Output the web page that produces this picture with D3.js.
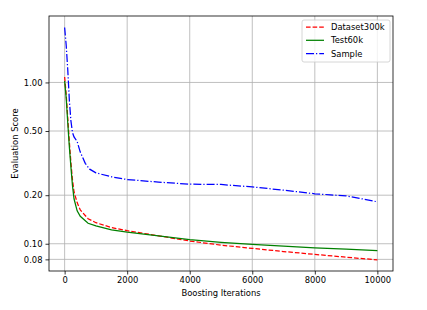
<!DOCTYPE html>
<html>
<head>
    <title>Evaluation Score</title>
    <script src="https://d3js.org/d3.v7.min.js"></script>
    <style>
        body { margin: 0; background: #fff; }
        svg { display: block; font-family: "DejaVu Sans", sans-serif; }
    </style>
</head>
<body>
    <svg id="chart"></svg>
    <script>
        const width = 427;
        const height = 310;

        // data
        const iterations = [0, 50, 100, 150, 200, 250, 300, 400, 500, 750, 1000, 1500, 2000, 3000, 4000, 5000, 6000, 7000, 8000, 9000, 10000];
        const dataset300k = [1.08, 0.84, 0.60, 0.43, 0.32, 0.25, 0.21, 0.18, 0.162, 0.143, 0.135, 0.126, 0.1205, 0.112, 0.104, 0.098, 0.0936, 0.0895, 0.0859, 0.0825, 0.0795];
        const test60k = [1.02, 0.80, 0.56, 0.40, 0.30, 0.23, 0.19, 0.16, 0.148, 0.134, 0.129, 0.122, 0.118, 0.112, 0.106, 0.102, 0.099, 0.0965, 0.0944, 0.0925, 0.0905];

        const sampleIterations = [0, 50, 100, 150, 200, 250, 300, 400, 500, 660, 800, 1000, 1500, 2000, 3000, 4000, 5000, 6000, 7000, 8000, 8500, 9000, 9500, 10000];
        const sample = [2.19, 1.7, 1.2, 0.78, 0.58, 0.49, 0.46, 0.43, 0.37, 0.315, 0.29, 0.275, 0.26, 0.250, 0.241, 0.234, 0.233, 0.225, 0.215, 0.204, 0.201, 0.198, 0.19, 0.182];

        const xTicks = [0, 2000, 4000, 6000, 8000, 10000];
        const yTicks = [0.08, 0.10, 0.20, 0.50, 1.00];

        const series = [
            { name: "Dataset300k", xs: iterations, ys: dataset300k, color: "#ff0000", dash: "4.6,2" },
            { name: "Test60k", xs: iterations, ys: test60k, color: "#008000", dash: null },
            { name: "Sample", xs: sampleIterations, ys: sample, color: "#0000ff", dash: "8,2,1.25,2" }
        ];

        const margin = { left: 49, right: 34, top: 16, bottom: 39 };

        const svg = d3.select("#chart")
            .attr("width", width)
            .attr("height", height);

        const x = d3.scaleLinear()
            .domain([-500, 10500])
            .range([margin.left, width - margin.right]);

        const y = d3.scaleLog()
            .domain([Math.pow(10, -1.169), Math.pow(10, 0.412)])
            .range([height - margin.bottom, margin.top]);

        // grid
        const grid = svg.append("g");
        grid.selectAll(".gx")
            .data(xTicks)
            .enter().append("line")
            .attr("x1", d => x(d)).attr("x2", d => x(d))
            .attr("y1", margin.top).attr("y2", height - margin.bottom)
            .style("stroke", "#b0b0b0")
            .style("stroke-width", 0.8);
        grid.selectAll(".gy")
            .data(yTicks)
            .enter().append("line")
            .attr("x1", margin.left).attr("x2", width - margin.right)
            .attr("y1", d => y(d)).attr("y2", d => y(d))
            .style("stroke", "#b0b0b0")
            .style("stroke-width", 0.8);

        // lines
        const line = d3.line()
            .x(d => x(d[0]))
            .y(d => y(d[1]));

        svg.append("defs").append("clipPath").attr("id", "plot-clip")
            .append("rect")
            .attr("x", margin.left).attr("y", margin.top)
            .attr("width", width - margin.left - margin.right)
            .attr("height", height - margin.top - margin.bottom);

        const plot = svg.append("g").attr("clip-path", "url(#plot-clip)");
        series.forEach(s => {
            plot.append("path")
                .datum(s.xs.map((v, i) => [v, s.ys[i]]))
                .attr("d", line)
                .style("fill", "none")
                .style("stroke", s.color)
                .style("stroke-width", 1.25)
                .style("stroke-dasharray", s.dash);
        });

        // axes
        const xAxis = d3.axisBottom(x)
            .tickValues(xTicks)
            .tickSize(3.5)
            .tickPadding(3)
            .tickFormat(d3.format("d"));
        const yAxis = d3.axisLeft(y)
            .tickValues(yTicks)
            .tickSize(3.5)
            .tickPadding(3)
            .tickFormat(d3.format(".2f"));

        const gx = svg.append("g")
            .attr("transform", `translate(0,${height - margin.bottom})`)
            .call(xAxis);
        const gy = svg.append("g")
            .attr("transform", `translate(${margin.left},0)`)
            .call(yAxis);

        [gx, gy].forEach(g => {
            g.select(".domain").remove();
            g.selectAll("line").style("stroke", "#000").style("stroke-width", 0.8);
            g.selectAll("text")
                .style("font-family", "DejaVu Sans")
                .style("font-size", "8.4px")
                .style("fill", "#000");
        });

        // frame
        svg.append("rect")
            .attr("x", margin.left).attr("y", margin.top)
            .attr("width", width - margin.left - margin.right)
            .attr("height", height - margin.top - margin.bottom)
            .style("fill", "none")
            .style("stroke", "#000")
            .style("stroke-width", 0.8);

        // labels
        svg.append("text")
            .attr("x", (margin.left + width - margin.right) / 2)
            .attr("y", 296)
            .attr("text-anchor", "middle")
            .style("font-size", "8.4px")
            .text("Boosting Iterations");

        svg.append("text")
            .attr("transform", `translate(18,${(margin.top + height - margin.bottom) / 2}) rotate(-90)`)
            .attr("text-anchor", "middle")
            .style("font-size", "8.4px")
            .text("Evaluation Score");

        // legend
        const lx = 302, ly = 20;
        const legend = svg.append("g");
        legend.append("rect")
            .attr("x", lx).attr("y", ly)
            .attr("width", 88).attr("height", 42)
            .attr("rx", 2)
            .style("fill", "#fff")
            .style("fill-opacity", 0.8)
            .style("stroke", "#cccccc")
            .style("stroke-width", 0.8);
        series.forEach((s, i) => {
            const yy = ly + 7 + i * 13.3;
            legend.append("line")
                .attr("x1", lx + 4).attr("x2", lx + 22)
                .attr("y1", yy).attr("y2", yy)
                .style("stroke", s.color)
                .style("stroke-width", 1.25)
                .style("stroke-dasharray", s.dash);
            legend.append("text")
                .attr("x", lx + 29).attr("y", yy)
                .attr("dy", "0.35em")
                .style("font-size", "8.4px")
                .text(s.name);
        });
    </script>
</body>
</html>
